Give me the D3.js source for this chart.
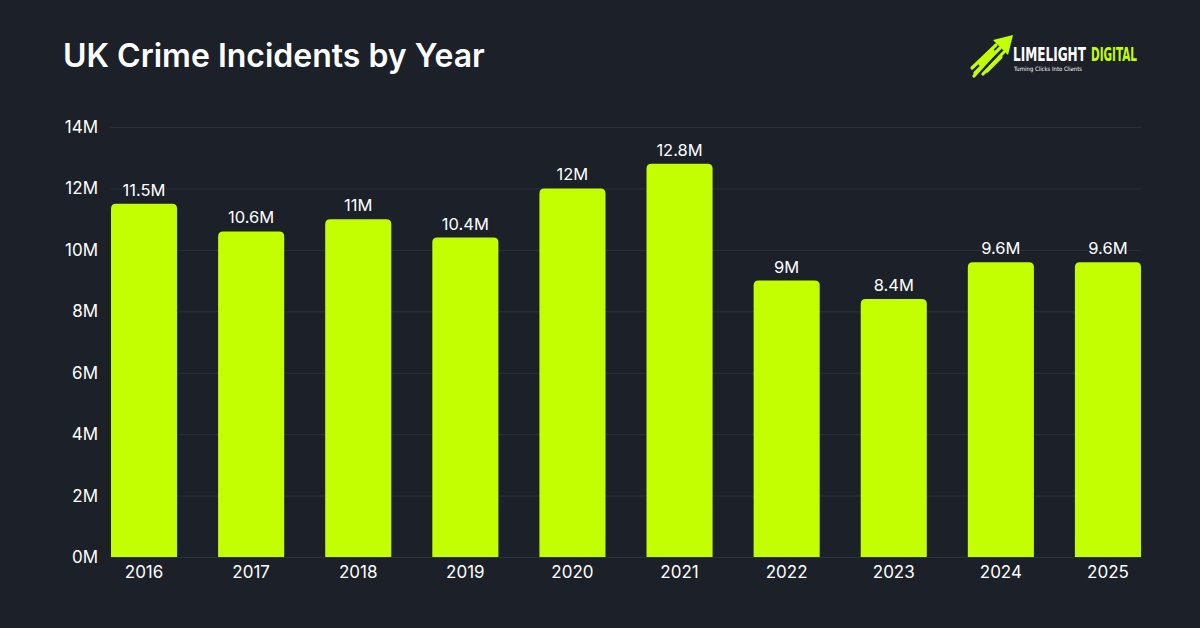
<!DOCTYPE html>
<html>
<head>
<meta charset="utf-8">
<script src="https://cdn.jsdelivr.net/npm/d3@7"></script>
<style>
  html, body { margin: 0; padding: 0; background: #1b2029; }
  svg { display: block; font-family: Inter, "Noto Sans", sans-serif; }
  .grid line { stroke: #2b313b; stroke-width: 1; }
  .grid .domain { display: none; }
  .axis .domain, .axis line { display: none; }
  .axis text { fill: #ffffff; font-size: 17px; font-family: Inter, sans-serif; }
</style>
</head>
<body>
<svg id="chart" width="1200" height="628"></svg>
<script>
// DATA
const years = ['2016', '2017', '2018', '2019', '2020', '2021', '2022', '2023', '2024', '2025'];
const incidents = [11.5, 10.6, 11, 10.4, 12, 12.8, 9, 8.4, 9.6, 9.6]; // millions
const yTicks = [0, 2, 4, 6, 8, 10, 12, 14];

const data = years.map((y, i) => ({ year: y, value: incidents[i] }));

const svg = d3.select('#chart');
const W = 1200, H = 628;
const LIME = '#c3ff00';

svg.append('rect').attr('width', W).attr('height', H).attr('fill', '#1b2029');

// title
svg.append('text')
    .attr('x', 63).attr('y', 67)
    .attr('fill', '#ffffff')
    .attr('font-size', 32)
    .attr('font-weight', 600)
    .text('UK Crime Incidents by Year');

// scales
const x = d3.scaleBand()
    .domain(years)
    .range([111, 1141])
    .paddingInner(0.383)
    .paddingOuter(0);

const y = d3.scaleLinear()
    .domain([0, 14])
    .range([557, 127]);

// gridlines
svg.append('g')
    .attr('class', 'grid')
    .attr('transform', 'translate(111,0)')
    .call(d3.axisLeft(y).tickValues(yTicks).tickSize(-1030).tickFormat(''));

// y axis labels
svg.append('g')
    .attr('class', 'axis')
    .attr('transform', 'translate(111,0)')
    .call(d3.axisLeft(y).tickValues(yTicks).tickSize(0).tickPadding(13).tickFormat(d => d + 'M'));

// x axis labels
svg.append('g')
    .attr('class', 'axis')
    .attr('transform', 'translate(0,557)')
    .call(d3.axisBottom(x).tickSize(0).tickPadding(9));

// bars with rounded top corners
const r = 5;
const bw = x.bandwidth();
svg.append('g')
    .selectAll('path')
    .data(data)
    .join('path')
    .attr('fill', LIME)
    .attr('d', d => {
        const x0 = x(d.year), x1 = x0 + bw;
        const y0 = y(d.value), yb = y(0);
        return `M${x0},${yb}V${y0 + r}Q${x0},${y0} ${x0 + r},${y0}H${x1 - r}Q${x1},${y0} ${x1},${y0 + r}V${yb}Z`;
    });

// value labels
svg.append('g')
    .selectAll('text')
    .data(data)
    .join('text')
    .attr('x', d => x(d.year) + bw / 2)
    .attr('y', d => y(d.value) - 8)
    .attr('text-anchor', 'middle')
    .attr('fill', '#ffffff')
    .attr('font-size', 16.5)
    .attr('font-weight', 400)
    .text(d => d.value + 'M');

// logo
const logo = svg.append('g');
// arrow head
logo.append('path')
    .attr('d', 'M1013,35 L993,40 L1008,55 Z')
    .attr('fill', LIME);
// arrow streaks
const streaks = [
    [1000, 48, 975, 73],
    [1004, 52, 983, 74],
    [996, 45, 972, 68],
    [993, 51, 980, 64],
    [1001, 57, 987, 71],
    [990, 58, 974, 76]
];
logo.selectAll('line')
    .data(streaks)
    .join('line')
    .attr('x1', d => d[0]).attr('y1', d => d[1])
    .attr('x2', d => d[2]).attr('y2', d => d[3])
    .attr('stroke', LIME)
    .attr('stroke-width', 3.2)
    .attr('stroke-linecap', 'round');

// squeeze a text horizontally into a given width
function squeezed(txt, x0, y0, w, size, weight, fill) {
    const t = logo.append('text')
        .attr('font-family', '"DejaVu Sans Condensed", "Liberation Sans Narrow", sans-serif')
        .attr('font-weight', weight)
        .attr('font-size', size)
        .attr('fill', fill)
        .text(txt);
    const natural = t.node().getComputedTextLength();
    t.attr('transform', `translate(${x0},${y0}) scale(${w / natural},1)`);
}
squeezed('LIMELIGHT', 1013, 61, 73, 19, 700, '#ffffff');
squeezed('DIGITAL', 1091, 61, 46, 19, 700, LIME);
squeezed('Turning Clicks Into Clients', 1014, 70.5, 68, 6, 400, '#ffffff');
</script>
</body>
</html>
